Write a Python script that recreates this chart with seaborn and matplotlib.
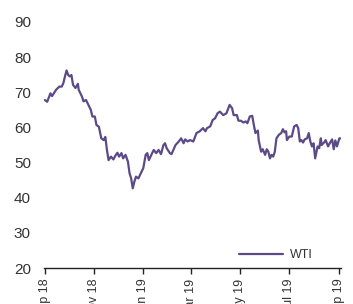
import matplotlib
matplotlib.use("Agg")
import matplotlib.pyplot as plt
import matplotlib.dates as mdates
import seaborn as sns
import pandas as pd

# Day offsets from 2018-09-01 and WTI price (USD/bbl)
day_offsets = [0, 3, 7, 9, 14, 18, 21, 23, 25, 27, 29, 31, 33, 35, 38, 41, 42, 46, 48, 51,
               53, 57, 59, 62, 64, 67, 70, 73, 75, 77, 79, 82, 85, 88, 90, 92, 95, 97, 100, 103,
               105, 107, 109, 111, 113, 116, 118, 122, 125, 127, 129, 132, 135, 138, 141, 144, 147, 149, 151, 155,
               157, 162, 166, 169, 172, 174, 177, 180, 184, 188, 192, 196, 199, 201, 205, 208, 211, 214, 217, 221,
               225, 229, 232, 234, 238, 240, 243, 246, 249, 251, 254, 257, 259, 261, 264, 265, 268, 270, 273, 275,
               277, 279, 281, 283, 285, 287, 290, 293, 295, 297, 299, 300, 303, 306, 309, 312, 314, 316, 318, 320,
               322, 325, 327, 329, 331, 333, 335, 338, 340, 342, 343, 346, 348, 351, 353, 356, 358, 360, 362, 365, 366]
wti = [67.8, 67.3, 69.7, 68.9, 70.7, 71.6, 71.6, 72.6, 74.5, 76.2, 74.9, 74.5, 74.9, 72.1, 71.2, 72.4, 70.7, 68.8, 67.4, 67.8,
       66.9, 65.0, 63.1, 63.1, 60.7, 60.2, 56.9, 56.4, 57.3, 53.6, 50.7, 51.7, 50.9, 52.2, 52.8, 51.7, 52.7, 51.2, 52.2, 50.3,
       47.0, 45.5, 42.7, 44.6, 46.0, 45.5, 46.5, 48.4, 52.2, 52.7, 50.7, 52.2, 53.6, 52.7, 53.6, 52.4, 55.0, 55.5, 54.1, 52.7,
       52.4, 55.0, 56.0, 56.9, 55.5, 56.6, 56.0, 56.4, 56.0, 58.4, 58.9, 59.8, 58.9, 59.8, 60.3, 62.1, 62.6, 64.0, 64.5, 63.5,
       64.0, 66.4, 65.5, 63.5, 63.5, 61.9, 61.9, 61.4, 61.7, 61.2, 63.1, 63.3, 60.7, 58.4, 59.1, 56.4, 53.1, 53.8, 52.2, 53.8,
       53.1, 51.2, 52.2, 51.7, 53.1, 56.9, 57.9, 58.4, 59.5, 58.6, 58.9, 56.4, 57.4, 57.4, 60.3, 60.7, 59.8, 56.0, 56.4, 55.7,
       56.6, 56.9, 58.4, 56.0, 54.6, 55.5, 51.2, 54.6, 54.1, 56.9, 55.0, 55.7, 56.4, 54.6, 55.5, 56.6, 53.8, 56.3, 54.6, 56.9, 56.9]
series_name = "WTI"
start_date = "2018-09-01"
tick_dates = ["2018-09-01", "2018-11-01", "2019-01-01", "2019-03-01", "2019-05-01", "2019-07-01", "2019-09-01"]
y_ticks = [20, 30, 40, 50, 60, 70, 80, 90]

df = pd.DataFrame({
    "date": pd.to_datetime(start_date) + pd.to_timedelta(day_offsets, unit="D"),
    "value": wti,
    "series": series_name,
})

sns.set_style("white")
plt.rcParams["font.family"] = ["Liberation Sans", "DejaVu Sans"]

fig = plt.figure(figsize=(3.53, 3.04), dpi=100)
ax = fig.add_axes([0.1246, 0.118, 0.8414, 0.81])

color = "#5c4a88"
sns.lineplot(data=df, x="date", y="value", hue="series", palette=[color],
             linewidth=1.6, ax=ax)

ax.set_ylim(20, 90)
ax.set_yticks(y_ticks)
ax.set_xlim(pd.Timestamp(start_date) - pd.Timedelta(days=1), pd.Timestamp(start_date) + pd.Timedelta(days=367))
ax.set_xticks(pd.to_datetime(tick_dates))
ax.xaxis.set_major_formatter(mdates.DateFormatter("%b %y"))
ax.set_xlabel("")
ax.set_ylabel("")

for s in ["top", "right", "left"]:
    ax.spines[s].set_visible(False)
ax.spines["bottom"].set_color("#222222")
ax.spines["bottom"].set_linewidth(1.0)

ax.tick_params(axis="y", left=False, length=0, pad=9.4, labelsize=11, labelcolor="#333333")
ax.tick_params(axis="x", bottom=True, length=4, width=1.0, color="#222222", direction="out",
               pad=3.5, labelsize=9, labelcolor="#333333", labelrotation=90)
ax.grid(False)

leg = ax.legend(loc="center left", bbox_to_anchor=((239 - 44) / 297, (268 - 255) / 246),
                frameon=False, fontsize=9, handlelength=3.5, handletextpad=0.55,
                borderpad=0, borderaxespad=0)
for t in leg.get_texts():
    t.set_color("#333333")
leg.get_lines()[0].set_linewidth(1.6)

fig.savefig("out.png", dpi=100)
